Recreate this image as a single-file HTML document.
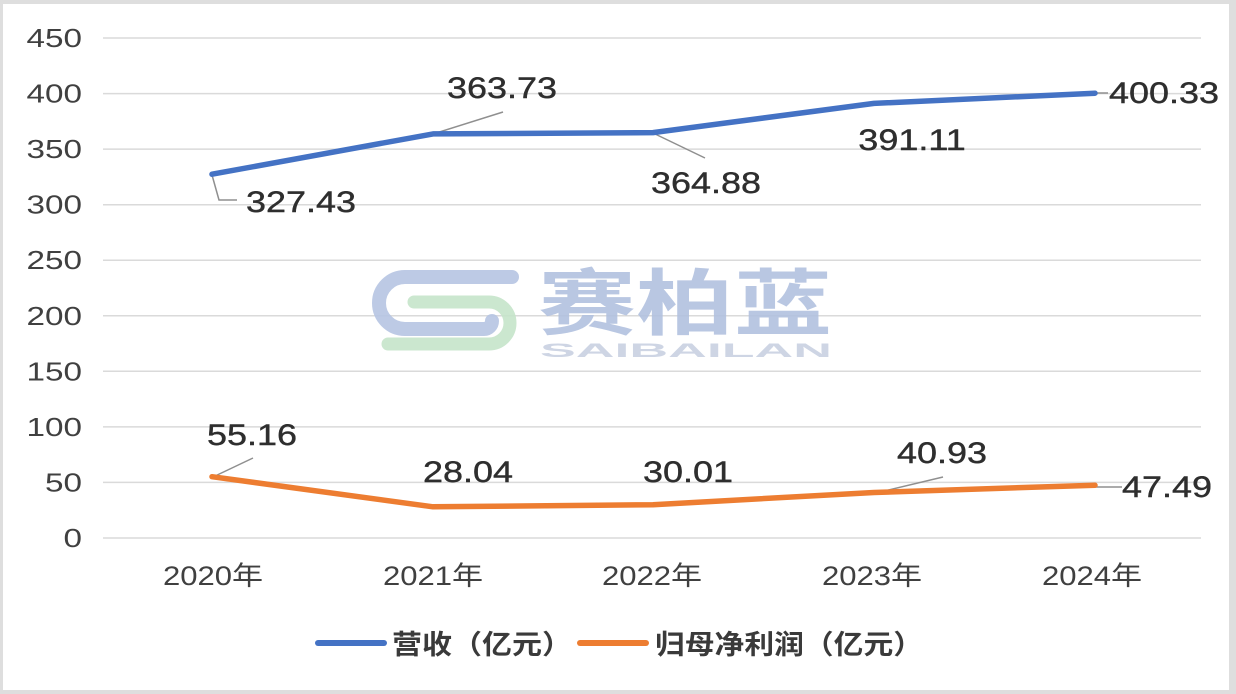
<!DOCTYPE html>
<html>
<head>
<meta charset="utf-8">
<style>
  html,body{margin:0;padding:0;background:#fff;}
  svg{display:block;}
  .ax{font-family:"Liberation Sans","Noto Sans CJK SC",sans-serif;fill:#404040;}
  .dl{font-family:"Liberation Sans",sans-serif;fill:#2e2e2e;font-size:30px;stroke:#2e2e2e;stroke-width:0.4;}
  .lg{font-family:"Liberation Sans","Noto Sans CJK SC",sans-serif;fill:#3a3a3a;font-size:27px;font-weight:bold;}
</style>
</head>
<body>
<svg width="1236" height="694" viewBox="0 0 1236 694" xmlns="http://www.w3.org/2000/svg">
  <!-- border -->
  <rect x="0" y="0" width="1236" height="694" fill="#dedede"/>
  <rect x="3" y="4" width="1226" height="686" fill="#ffffff"/>

  <!-- gridlines -->
  <g stroke="#dadada" stroke-width="1.5">
    <line x1="103" y1="38" x2="1201" y2="38"/>
    <line x1="103" y1="93.6" x2="1201" y2="93.6"/>
    <line x1="103" y1="149.1" x2="1201" y2="149.1"/>
    <line x1="103" y1="204.7" x2="1201" y2="204.7"/>
    <line x1="103" y1="260.2" x2="1201" y2="260.2"/>
    <line x1="103" y1="315.8" x2="1201" y2="315.8"/>
    <line x1="103" y1="371.3" x2="1201" y2="371.3"/>
    <line x1="103" y1="426.9" x2="1201" y2="426.9"/>
    <line x1="103" y1="482.4" x2="1201" y2="482.4"/>
    <line x1="103" y1="538" x2="1201" y2="538"/>
  </g>

  <!-- watermark -->
  <g opacity="0.9">
    <path d="M512,277 L405,277 A26,26 0 0 0 405,329 L484,329 A8,8 0 0 0 492,321" fill="none" stroke="#b6c5e3" stroke-width="14" stroke-linecap="round"/>
    <path d="M414,302 L489,302 A21,21 0 0 1 489,344 L388,344" fill="none" stroke="#c6e5ca" stroke-width="13" stroke-linecap="round"/>
    <text x="538" y="329" font-family="'Noto Sans CJK SC','WenQuanYi Zen Hei',sans-serif" font-weight="bold" font-size="72" fill="#b2c1df" textLength="294" lengthAdjust="spacingAndGlyphs">赛柏蓝</text>
    <text x="540" y="357" font-family="'Liberation Sans',sans-serif" font-weight="bold" font-size="19" fill="#c9d1e2" textLength="292" lengthAdjust="spacingAndGlyphs">SAIBAILAN</text>
  </g>

  <!-- y-axis labels -->
  <g class="ax" font-size="26" text-anchor="end">
    <text transform="translate(82,47) scale(1.28,1)">450</text>
    <text transform="translate(82,102.6) scale(1.28,1)">400</text>
    <text transform="translate(82,158.1) scale(1.28,1)">350</text>
    <text transform="translate(82,213.7) scale(1.28,1)">300</text>
    <text transform="translate(82,269.2) scale(1.28,1)">250</text>
    <text transform="translate(82,324.8) scale(1.28,1)">200</text>
    <text transform="translate(82,380.3) scale(1.28,1)">150</text>
    <text transform="translate(82,435.9) scale(1.28,1)">100</text>
    <text transform="translate(82,491.4) scale(1.28,1)">50</text>
    <text transform="translate(82,547) scale(1.28,1)">0</text>
  </g>

  <!-- x-axis labels -->
  <g class="ax" font-size="27" text-anchor="middle">
    <text transform="translate(213,585) scale(1.15,1)">2020年</text>
    <text transform="translate(433,585) scale(1.15,1)">2021年</text>
    <text transform="translate(652,585) scale(1.15,1)">2022年</text>
    <text transform="translate(872,585) scale(1.15,1)">2023年</text>
    <text transform="translate(1092,585) scale(1.15,1)">2024年</text>
  </g>

  <!-- leader lines -->
  <g stroke="#8f8f8f" stroke-width="1.5" fill="none">
    <path d="M212,175 L219,200 L237,200"/>
    <path d="M433,134 L503,112"/>
    <path d="M653,133 L705,158"/>
    <path d="M1097,93 L1108,93"/>
    <path d="M213,477 L253,458"/>
    <path d="M880,492 L943,477"/>
    <path d="M1095,487 L1122,487"/>
  </g>

  <!-- series -->
  <polyline points="212,174.2 433,133.9 653,132.6 874,103.4 1095,93.2" fill="none" stroke="#4472C4" stroke-width="5.5" stroke-linejoin="round" stroke-linecap="round"/>
  <polyline points="212,476.7 433,506.8 653,504.7 874,492.5 1095,485.2" fill="none" stroke="#ED7D31" stroke-width="5.5" stroke-linejoin="round" stroke-linecap="round"/>

  <!-- data labels -->
  <g class="dl" text-anchor="middle">
    <text transform="translate(301,212) scale(1.2,1)">327.43</text>
    <text transform="translate(502,98) scale(1.2,1)">363.73</text>
    <text transform="translate(706,193) scale(1.2,1)">364.88</text>
    <text transform="translate(912,150) scale(1.2,1)">391.11</text>
    <text transform="translate(1164,103) scale(1.2,1)">400.33</text>
    <text transform="translate(252,445) scale(1.2,1)">55.16</text>
    <text transform="translate(468,482) scale(1.2,1)">28.04</text>
    <text transform="translate(688,482) scale(1.2,1)">30.01</text>
    <text transform="translate(942,463) scale(1.2,1)">40.93</text>
    <text transform="translate(1167,497) scale(1.2,1)">47.49</text>
  </g>

  <!-- legend -->
  <line x1="318" y1="643" x2="384" y2="643" stroke="#4472C4" stroke-width="6" stroke-linecap="round"/>
  <text class="lg" x="392" y="654" textLength="180" lengthAdjust="spacingAndGlyphs">营收（亿元）</text>
  <line x1="580" y1="643" x2="646" y2="643" stroke="#ED7D31" stroke-width="6" stroke-linecap="round"/>
  <text class="lg" x="655" y="654" textLength="268" lengthAdjust="spacingAndGlyphs">归母净利润（亿元）</text>
</svg>
</body>
</html>
